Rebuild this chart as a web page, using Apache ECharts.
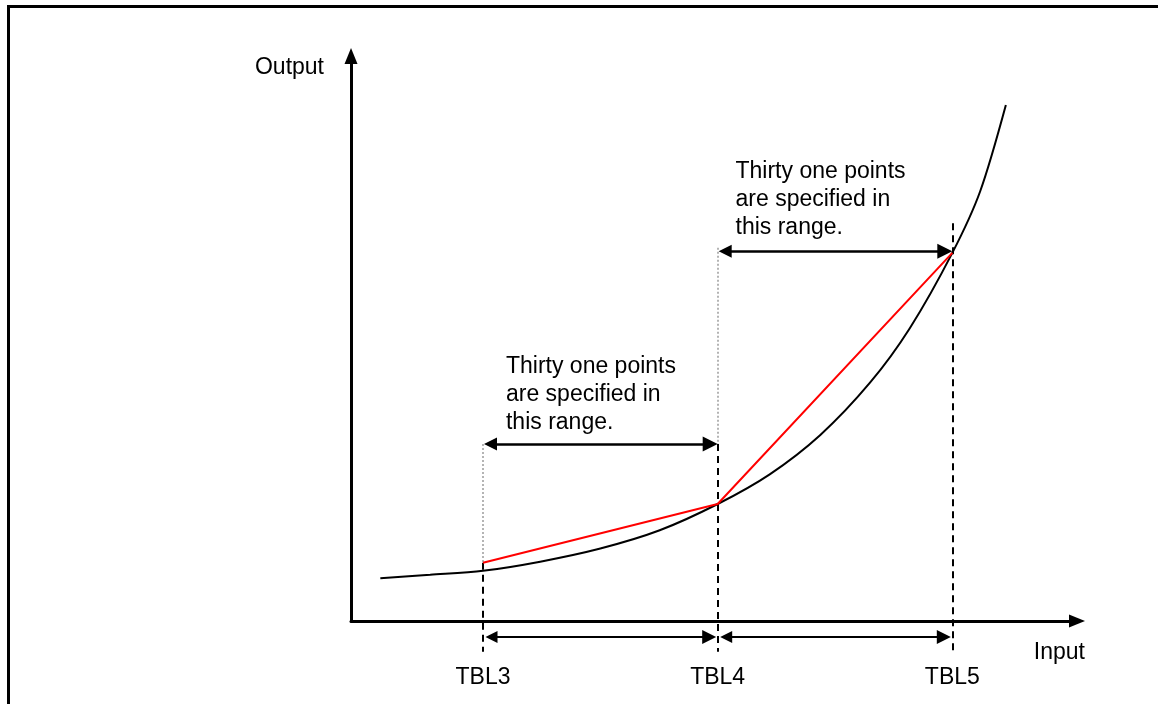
<!DOCTYPE html>
<html><head><meta charset="utf-8">
<script src="https://cdn.jsdelivr.net/npm/echarts@6/dist/echarts.min.js"></script>
<style>html,body{margin:0;padding:0;background:#fff}#c{width:1158px;height:704px}</style>
</head><body><div id="c"></div>
<script>
// ---- data ----
const tickValues = [18, 50, 82];
const tickLabels = ['TBL3', 'TBL4', 'TBL5'];
const curveX = [4, 10.8, 18, 25.8, 34, 42.1, 50, 57.1, 64, 70.8, 76.2, 82, 85.8, 89.3];
const curveY = [7.5, 8.1, 8.8, 10.4, 12.7, 15.9, 20.5, 25.7, 32.6, 41.8, 51.3, 64.5, 75.3, 90.4];
const redX = [18, 50, 82];
const redY = [10.2, 20.5, 64.5];
const noteText = ['Thirty one points\nare specified in\nthis range.', 'Thirty one points\nare specified in\nthis range.'];
const noteX = [21.2, 52.5];
const noteY = [46.85, 81.1];
const dashTop = [10.2, 31.0, 69.7];
const dashBottom = -5.4;
const dotX = [18, 50];
const dotTop = [31.0, 65.4];
const dotBottom = [10.2, 31.0];
const spanFrom = [18, 50];
const spanTo = [50, 82];
const spanY = [31.0, 64.8];
const bottomArrowY = -2.8;

const FONT = "'Liberation Sans', Arial, sans-serif";
const SPAN_HEAD = [13, 15];
const BOTTOM_HEAD = [12, 14];
const chart = echarts.init(document.getElementById('c'));

const curveData = curveX.map((x, i) => [x, curveY[i]]);
const redData = redX.map((x, i) => [x, redY[i]]);
const dashData = tickValues.map((x, i) => ({coords: [[x, dashTop[i]], [x, dashBottom]]}));
const dotData = dotX.map((x, i) => ({coords: [[x, dotTop[i]], [x, dotBottom[i]]]}));
const noteData = noteX.map((x, i) => ({value: [x, noteY[i]], name: noteText[i]}));

// arrow shafts: the arrowhead symbol is centred on the line end, so pull ends in by half its length
function spanLines(inset) {
  return spanFrom.map((x, i) => ({coords: [[x + inset, spanY[i]], [spanTo[i] - inset, spanY[i]]]}));
}
function bottomLines(inset) {
  const out = [];
  for (let i = 0; i < tickValues.length - 1; i++) {
    out.push({coords: [[tickValues[i] + inset, bottomArrowY], [tickValues[i + 1] - inset, bottomArrowY]]});
  }
  return out;
}

chart.setOption({
  animation: false,
  backgroundColor: '#fff',
  textStyle: {fontFamily: FONT},
  graphic: [{
    type: 'polyline',
    shape: {points: [[8.5, 704], [8.5, 6.5], [1158, 6.5]]},
    style: {stroke: '#000', lineWidth: 3, fill: 'none'}
  }],
  grid: {left: 351, right: 81, top: 56, bottom: 83, containLabel: false},
  xAxis: {
    type: 'value', min: 0, max: 99,
    name: 'Input', nameLocation: 'end', nameGap: 8,
    nameTextStyle: {fontFamily: FONT, fontSize: 23, color: '#000', align: 'right', verticalAlign: 'top', lineHeight: 28, padding: [18, 0, 0, 0]},
    axisLine: {show: true, onZero: false, lineStyle: {color: '#000', width: 3}, symbol: ['none', 'triangle'], symbolSize: [13, 16]},
    axisTick: {show: false},
    splitLine: {show: false},
    axisLabel: {
      show: true, customValues: tickValues,
      formatter: v => { const k = tickValues.indexOf(v); return k >= 0 ? tickLabels[k] : ''; },
      margin: 43, fontSize: 23, lineHeight: 28, color: '#000', fontFamily: FONT
    }
  },
  yAxis: {
    type: 'value', min: 0, max: 99,
    name: 'Output', nameLocation: 'end', nameGap: -12,
    nameTextStyle: {fontFamily: FONT, fontSize: 23, color: '#000', align: 'right', verticalAlign: 'middle', padding: [0, 27, 0, 0]},
    axisLine: {show: true, lineStyle: {color: '#000', width: 3}, symbol: ['none', 'triangle'], symbolSize: [13, 16]},
    axisTick: {show: false},
    splitLine: {show: false},
    axisLabel: {show: false}
  },
  series: [
    {
      type: 'lines', coordinateSystem: 'cartesian2d', clip: false, z: 1,
      symbol: 'none',
      lineStyle: {color: '#000', width: 2, type: [7, 5], opacity: 1},
      data: dashData
    },
    {
      type: 'lines', coordinateSystem: 'cartesian2d', clip: false, z: 1,
      symbol: 'none',
      lineStyle: {color: '#b4b4b4', width: 2, type: [2, 2], opacity: 1},
      data: dotData
    },
    {
      type: 'line', data: curveData, smooth: 0.3, showSymbol: false, clip: false, z: 3,
      lineStyle: {color: '#000', width: 2}, itemStyle: {color: '#000'}
    },
    {
      type: 'line', data: redData, showSymbol: false, clip: false, z: 4,
      lineStyle: {color: '#ff0000', width: 2}, itemStyle: {color: '#ff0000'}
    },
    {
      id: 'spans', type: 'lines', coordinateSystem: 'cartesian2d', clip: false, z: 5,
      symbol: ['triangle', 'triangle'], symbolSize: SPAN_HEAD,
      lineStyle: {color: '#000', width: 2.5, opacity: 1}, itemStyle: {color: '#000'},
      data: spanLines(0)
    },
    {
      id: 'bottoms', type: 'lines', coordinateSystem: 'cartesian2d', clip: false, z: 5,
      symbol: ['triangle', 'triangle'], symbolSize: BOTTOM_HEAD,
      lineStyle: {color: '#000', width: 2, opacity: 1}, itemStyle: {color: '#000'},
      data: bottomLines(0)
    },
    {
      type: 'scatter', data: noteData, symbolSize: 1, clip: false, z: 6,
      itemStyle: {color: 'rgba(0,0,0,0)'},
      label: {
        show: true, position: [0, 0], align: 'left', verticalAlign: 'top',
        formatter: p => p.name, fontFamily: FONT, fontSize: 23, lineHeight: 28, color: '#000', opacity: 1, padding: 0
      }
    }
  ]
});

const pxPerUnit = Math.abs(chart.convertToPixel({xAxisIndex: 0}, 1) - chart.convertToPixel({xAxisIndex: 0}, 0));
chart.setOption({
  series: [
    {id: 'spans', data: spanLines(SPAN_HEAD[1] / 2 / pxPerUnit)},
    {id: 'bottoms', data: bottomLines((BOTTOM_HEAD[1] / 2 + 1.5) / pxPerUnit)}
  ]
});
</script></body></html>
